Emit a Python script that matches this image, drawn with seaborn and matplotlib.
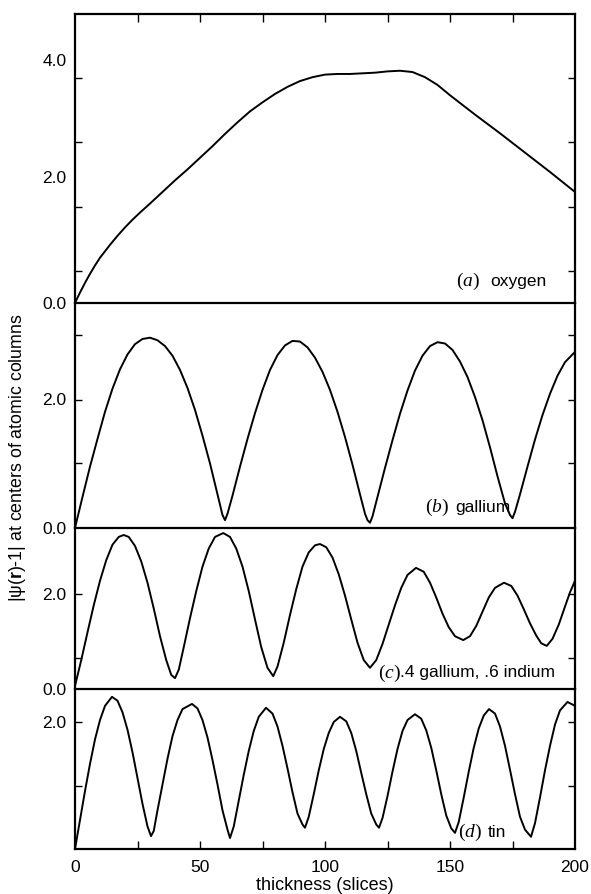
import matplotlib
matplotlib.use("Agg")
import matplotlib.pyplot as plt
import seaborn as sns
import pandas as pd

# ---------------- data ----------------
oxygen_x = [0, 2, 4, 6, 8, 10, 12, 14, 17, 20, 23, 26, 30, 35, 40, 45, 50, 55, 60, 65, 70, 75,
            80, 85, 90, 95, 100, 105, 110, 115, 120, 125, 130, 135, 140, 145, 150, 160, 170,
            180, 190, 200]
oxygen_y = [0, 0.16, 0.31, 0.45, 0.58, 0.7, 0.8, 0.9, 1.04, 1.17, 1.29, 1.4, 1.54, 1.72, 1.9,
            2.07, 2.25, 2.43, 2.62, 2.8, 2.97, 3.11, 3.24, 3.35, 3.44, 3.5, 3.54, 3.55, 3.55,
            3.56, 3.57, 3.59, 3.6, 3.58, 3.5, 3.38, 3.22, 2.92, 2.63, 2.33, 2.03, 1.72]

gallium_x = [0, 3, 6, 9, 12, 15, 18, 21, 24, 27, 30, 33, 36, 39, 42, 45, 48, 51, 54, 57, 59, 60,
             61, 63, 66, 69, 72, 75, 78, 81, 84, 87, 90, 93, 96, 99, 102, 105, 108, 111, 114, 116, 117, 118,
             119, 121, 124, 127, 130, 133, 136, 139, 142, 145, 148, 151, 154, 157, 160, 163, 166, 169, 172, 174, 175,
             176, 178, 181, 184, 187, 190, 193, 196, 200]
gallium_y = [0, 0.48, 0.95, 1.38, 1.8, 2.16, 2.46, 2.69, 2.85, 2.93, 2.95, 2.91, 2.82, 2.67, 2.45, 2.17, 1.83, 1.43, 1.0, 0.52, 0.2, 0.12,
             0.22, 0.5, 0.95, 1.38, 1.78, 2.14, 2.45, 2.68, 2.83, 2.9, 2.89, 2.8, 2.64, 2.42, 2.14, 1.8, 1.41, 0.98, 0.52, 0.22, 0.12, 0.08,
             0.18, 0.48, 0.93, 1.36, 1.77, 2.13, 2.44, 2.67, 2.82, 2.88, 2.86, 2.76, 2.58, 2.34, 2.03, 1.67, 1.25, 0.8, 0.38, 0.2, 0.15,
             0.25, 0.52, 0.95, 1.37, 1.75, 2.08, 2.36, 2.57, 2.73]

gain_x = [0, 2.5, 5, 7.5, 10, 12.5, 15, 17.5, 19.5, 21.5, 24, 26.5, 29, 31.5, 34, 36.5, 38.5, 40,
          41.5, 43.5, 46, 48.5, 51, 53.5, 56, 59.3, 62, 64.5, 67, 69.5, 72, 74.5, 77, 79.3,
          81, 83.5, 86, 88.5, 91, 93.5, 96, 98, 100.5, 103, 105.5, 108, 110.5, 113, 115.5, 118,
          120.5, 123, 125.5, 128, 130.5, 133, 136.4, 139.5, 142, 144.5, 147, 149.5, 152, 155.3,
          158, 160.5, 163, 165.5, 168, 171.6, 174.5, 177, 179.5, 182, 184.5, 186.5, 188.7,
          191, 193.5, 196, 198, 200]
gain_y = [0.05, 0.45, 0.88, 1.3, 1.68, 2.0, 2.24, 2.36, 2.39, 2.36, 2.22, 1.98, 1.65, 1.25, 0.82, 0.45, 0.22, 0.17,
          0.3, 0.65, 1.1, 1.52, 1.9, 2.18, 2.36, 2.42, 2.36, 2.18, 1.9, 1.52, 1.08, 0.65, 0.33, 0.2,
          0.35, 0.72, 1.15, 1.55, 1.9, 2.12, 2.23, 2.25, 2.2, 2.04, 1.78, 1.45, 1.08, 0.72, 0.45, 0.33,
          0.45, 0.7, 1.0, 1.3, 1.57, 1.77, 1.88, 1.82, 1.65, 1.42, 1.17, 0.96, 0.82, 0.76,
          0.82, 0.98, 1.2, 1.42, 1.57, 1.65, 1.6, 1.45, 1.24, 1.02, 0.83, 0.71, 0.67,
          0.78, 1.0, 1.28, 1.5, 1.68]

tin_x = [0, 2, 4, 6, 8, 10, 12, 14.8, 17, 19, 21, 23, 25, 27, 29, 30.4, 31.5,
         33, 35, 37, 39, 41, 43, 46.8, 49, 51, 53, 55, 57, 59, 61, 62,
         63.5, 65.5, 67.5, 69.5, 71.5, 73.5, 76.4, 79, 81, 83, 85, 87, 89, 91, 92,
         93.5, 95.5, 97.5, 99.5, 101.5, 103.5, 106, 108.5, 110.5, 112.5, 114.5, 116.5, 118.5, 120.5, 121.6,
         123, 125, 127, 129, 131, 133, 136, 138.5, 140.5, 142.5, 144.5, 146.5, 148.5, 150.5, 152,
         153.5, 155.5, 157.5, 159.5, 161.5, 163.5, 165.6, 168, 170, 172, 174, 176, 178, 180, 182.4,
         184, 186, 188, 190, 192, 194, 197, 200]
tin_y = [0, 0.45, 0.9, 1.32, 1.7, 2.0, 2.22, 2.36, 2.3, 2.12, 1.85, 1.5, 1.1, 0.7, 0.35, 0.2, 0.28,
         0.6, 1.0, 1.4, 1.75, 2.0, 2.17, 2.25, 2.18, 2.0, 1.73, 1.38, 1.0, 0.6, 0.3, 0.17,
         0.35, 0.75, 1.15, 1.52, 1.83, 2.05, 2.19, 2.1, 1.9, 1.6, 1.25, 0.88, 0.55, 0.38, 0.33,
         0.5, 0.85, 1.22, 1.55, 1.8, 1.97, 2.05, 1.98, 1.8, 1.52, 1.18, 0.85, 0.55, 0.38, 0.33,
         0.48, 0.82, 1.2, 1.55, 1.83, 2.0, 2.09, 2.02, 1.84, 1.57, 1.22, 0.85, 0.52, 0.32, 0.25,
         0.42, 0.8, 1.2, 1.57, 1.87, 2.07, 2.17, 2.1, 1.9, 1.6, 1.23, 0.85, 0.5, 0.3, 0.19,
         0.4, 0.8, 1.22, 1.6, 1.93, 2.15, 2.28, 2.22]

panel_names = ["oxygen", "gallium", ".4 gallium, .6 indium", "tin"]
panel_tags = ["a", "b", "c", "d"]
x_tick_labels = ["0", "50", "100", "150", "200"]
x_label = "thickness (slices)"
y_label_parts = ["|ψ(", r"$\mathbf{r}$", ")-1| at centers of atomic columns"]

# y tick labels per panel: (positions, labels)
ytick_label_pos = [[0, 1.95, 3.76], [0, 2.0], [0, 1.47], [1.97]]
ytick_label_txt = [["0.0", "2.0", "4.0"], ["0.0", "2.0"], ["0.0", "2.0"], ["2.0"]]

# ---------------- styling / layout ----------------
sns.set_style("ticks")
plt.rcParams["font.family"] = ["Liberation Sans", "DejaVu Sans"]
plt.rcParams["mathtext.fontset"] = "custom"
plt.rcParams["mathtext.rm"] = "Liberation Serif"
plt.rcParams["mathtext.it"] = "Liberation Serif:italic"
plt.rcParams["mathtext.bf"] = "Liberation Sans:bold"
for k in ["axes.edgecolor", "xtick.color", "ytick.color", "text.color",
          "axes.labelcolor"]:
    plt.rcParams[k] = "black"

W, H = 591, 894
fig = plt.figure(figsize=(W / 100, H / 100), dpi=100)
ylims = [4.48, 3.49, 2.50, 2.48]
gs = fig.add_gridspec(4, 1, height_ratios=ylims, hspace=0,
                      left=75 / W, right=575 / W, top=1 - 14 / H, bottom=1 - 849 / H)

ytick_marks = [[0.49, 1.49, 2.49, 3.49], [1.0, 1.99, 2.99], [0.48, 1.47], [0.97, 1.97]]
# (tag x, name x, y) in data units of each panel
label_xy = [(152.5, 166.0, 0.33), (140.0, 152.0, 0.31), (121.0, 130.0, 0.25), (153.0, 165.0, 0.26)]

series = [(oxygen_x, oxygen_y), (gallium_x, gallium_y), (gain_x, gain_y), (tin_x, tin_y)]
fig.patch.set_facecolor("white")
axes = []
for i in range(4):
    ax = fig.add_subplot(gs[i])
    ax.patch.set_visible(False)
    axes.append(ax)
    xs, ys = series[i]
    df = pd.DataFrame({"x": xs, "y": ys})
    sns.lineplot(data=df, x="x", y="y", ax=ax, color="black", linewidth=1.4, sort=False,
                 estimator=None)
    ax.set_xlim(0, 200)
    ax.set_ylim(0, ylims[i])
    ax.set_xlabel("")
    ax.set_ylabel("")
    ax.yaxis.remove_overlapping_locs = False
    ax.set_yticks(ytick_label_pos[i])
    ax.set_yticklabels(ytick_label_txt[i], fontsize=12.5)
    ax.set_yticks(ytick_marks[i], minor=True)
    ax.tick_params(axis="y", which="major", length=0, pad=6)
    ax.tick_params(axis="y", which="minor", direction="in", length=5, width=1.0,
                   left=True, right=True)
    for s in ["left", "right", "top", "bottom"]:
        ax.spines[s].set_linewidth(1.6)
        ax.spines[s].set_color("black")
    ax.spines["top"].set_visible(i == 0)

    tx, nx, ly = label_xy[i]
    ax.text(tx, ly, r"$(" + panel_tags[i] + ")$", ha="left", va="center", fontsize=14)
    ax.text(nx, ly, panel_names[i], ha="left", va="center", fontsize=12.5)

    ax.xaxis.remove_overlapping_locs = False
    if i == 3:
        ax.set_xticks([0, 50, 100, 150, 200])
        ax.set_xticklabels(x_tick_labels, fontsize=12.5)
        ax.set_xticks([25, 50, 75, 100, 125, 150, 175], minor=True)
        ax.tick_params(axis="x", which="major", length=0, pad=8)
        ax.tick_params(axis="x", which="minor", direction="in", length=6, width=1.0,
                       bottom=True, top=False)
        ax.set_xlabel(x_label, fontsize=13, labelpad=1)
    elif i == 0:
        ax.set_xticks([])
        ax.set_xticks([25, 50, 75, 100, 125, 150, 175], minor=True)
        ax.tick_params(axis="x", which="minor", direction="in", length=6, width=1.0,
                       bottom=False, top=True, labelbottom=False)
    else:
        ax.set_xticks([])
        ax.set_xticks([], minor=True)

fig.text(18 / W, 1 - 458 / H, "".join(y_label_parts), rotation=90, ha="center", va="center",
         fontsize=12.8)

fig.savefig("out.png", dpi=100, facecolor="white")
